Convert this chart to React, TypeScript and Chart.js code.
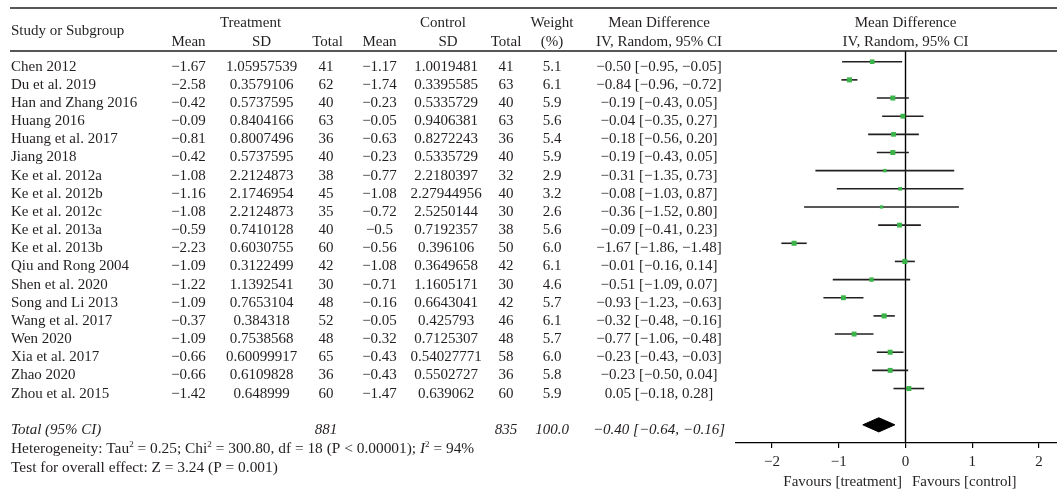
import React, { useEffect, useRef } from "react";
import { Chart, registerables } from "chart.js";

Chart.register(...registerables);

const studies = [
  "Chen 2012", "Du et al. 2019", "Han and Zhang 2016", "Huang 2016", "Huang et al. 2017",
  "Jiang 2018", "Ke et al. 2012a", "Ke et al. 2012b", "Ke et al. 2012c", "Ke et al. 2013a",
  "Ke et al. 2013b", "Qiu and Rong 2004", "Shen et al. 2020", "Song and Li 2013",
  "Wang et al. 2017", "Wen 2020", "Xia et al. 2017", "Zhao 2020", "Zhou et al. 2015",
];
const tMean = [-1.67, -2.58, -0.42, -0.09, -0.81, -0.42, -1.08, -1.16, -1.08, -0.59, -2.23, -1.09, -1.22, -1.09, -0.37, -1.09, -0.66, -0.66, -1.42];
const tSD = [1.05957539, 0.3579106, 0.5737595, 0.8404166, 0.8007496, 0.5737595, 2.2124873, 2.1746954, 2.2124873, 0.7410128, 0.6030755, 0.3122499, 1.1392541, 0.7653104, 0.384318, 0.7538568, 0.60099917, 0.6109828, 0.648999];
const tTotal = [41, 62, 40, 63, 36, 40, 38, 45, 35, 40, 60, 42, 30, 48, 52, 48, 65, 36, 60];
const cMean = [-1.17, -1.74, -0.23, -0.05, -0.63, -0.23, -0.77, -1.08, -0.72, -0.5, -0.56, -1.08, -0.71, -0.16, -0.05, -0.32, -0.43, -0.43, -1.47];
const cSD = [1.0019481, 0.3395585, 0.5335729, 0.9406381, 0.8272243, 0.5335729, 2.2180397, 2.27944956, 2.5250144, 0.7192357, 0.396106, 0.3649658, 1.1605171, 0.6643041, 0.425793, 0.7125307, 0.54027771, 0.5502727, 0.639062];
const cTotal = [41, 63, 40, 63, 36, 40, 32, 40, 30, 38, 50, 42, 30, 42, 46, 48, 58, 36, 60];
const weights = [5.1, 6.1, 5.9, 5.6, 5.4, 5.9, 2.9, 3.2, 2.6, 5.6, 6.0, 6.1, 4.6, 5.7, 6.1, 5.7, 6.0, 5.8, 5.9];
const md = [-0.50, -0.84, -0.19, -0.04, -0.18, -0.19, -0.31, -0.08, -0.36, -0.09, -1.67, -0.01, -0.51, -0.93, -0.32, -0.77, -0.23, -0.23, 0.05];
const ciLow = [-0.95, -0.96, -0.43, -0.35, -0.56, -0.43, -1.35, -1.03, -1.52, -0.41, -1.86, -0.16, -1.09, -1.23, -0.48, -1.06, -0.43, -0.50, -0.18];
const ciHigh = [-0.05, -0.72, 0.05, 0.27, 0.20, 0.05, 0.73, 0.87, 0.80, 0.23, -1.48, 0.14, 0.07, -0.63, -0.16, -0.48, -0.03, 0.04, 0.28];

const totalTreatment = 881;
const totalControl = 835;
const totalWeight = 100.0;
const totalMD = -0.40;
const totalLow = -0.64;
const totalHigh = -0.16;

const xTicks = [-2, -1, 0, 1, 2];
const heterogeneity = { tau2: "0.25", chi2: "300.80", df: "18", p: "< 0.00001", i2: "94%" };
const overallTest = "Test for overall effect: Z = 3.24 (P = 0.001)";

const TOTAL_ROW = 20;
const FONT = '"Liberation Serif", "Times New Roman", serif';
const INK = "#231f20";

const minus = (s: string) => s.replace(/-/g, "\u2212");
const f2 = (n: number) => minus(n.toFixed(2));
const ciText = (m: number, l: number, h: number) => `${f2(m)} [${f2(l)}, ${f2(h)}]`;

export default function App() {
  const ref = useRef<HTMLCanvasElement>(null);

  useEffect(() => {
    const canvas = ref.current;
    if (!canvas) return;

    const cols = { tMean: 188.5, tSD: 261.5, tN: 326, cMean: 379.5, cSD: 446, cN: 506, w: 552, md: 659 };

    const tablePlugin = {
      id: "forestTable",
      afterDraw(chart: any) {
        const c: CanvasRenderingContext2D = chart.ctx;
        const ys = chart.scales.y;
        const xs = chart.scales.x;
        const area = chart.chartArea;
        c.save();
        c.fillStyle = INK;
        c.strokeStyle = INK;
        c.lineWidth = 1.3;
        c.beginPath();
        c.moveTo(10, 8);
        c.lineTo(1057, 8);
        c.moveTo(10, area.top);
        c.lineTo(1057, area.top);
        c.stroke();

        const txt = (s: string, x: number, y: number, align: CanvasTextAlign = "center", style = "normal", size = 15) => {
          c.font = `${style} ${size}px ${FONT}`;
          c.textAlign = align;
          c.textBaseline = "alphabetic";
          c.fillText(s, x, y);
        };

        // headers
        txt("Study or Subgroup", 11, 35, "left");
        txt("Treatment", 250.5, 26.7);
        txt("Mean", cols.tMean, 45.7);
        txt("SD", cols.tSD, 45.7);
        txt("Total", 327.5, 45.7);
        txt("Control", 443, 26.7);
        txt("Mean", cols.cMean, 45.7);
        txt("SD", 448, 45.7);
        txt("Total", cols.cN, 45.7);
        txt("Weight", cols.w, 26.7);
        txt("(%)", cols.w, 45.7);
        txt("Mean Difference", cols.md, 26.7);
        txt("IV, Random, 95% CI", cols.md, 45.7);
        const zx = xs.getPixelForValue(0);
        txt("Mean Difference", zx, 26.7);
        txt("IV, Random, 95% CI", zx, 45.7);

        // rows
        studies.forEach((name, i) => {
          const y = ys.getPixelForValue(i) + 9;
          txt(name, 11, y, "left");
          txt(minus(String(tMean[i])), cols.tMean, y);
          txt(String(tSD[i]), cols.tSD, y);
          txt(String(tTotal[i]), cols.tN, y);
          txt(minus(String(cMean[i])), cols.cMean, y);
          txt(String(cSD[i]), cols.cSD, y);
          txt(String(cTotal[i]), cols.cN, y);
          txt(weights[i].toFixed(1), cols.w, y);
          txt(ciText(md[i], ciLow[i], ciHigh[i]), cols.md, y);
        });

        // total row
        const ty = ys.getPixelForValue(TOTAL_ROW) + 9;
        txt("Total (95% CI)", 11, ty, "left", "italic");
        txt(String(totalTreatment), cols.tN, ty, "center", "italic");
        txt(String(totalControl), cols.cN, ty, "center", "italic");
        txt(totalWeight.toFixed(1), cols.w, ty, "center", "italic");
        txt(ciText(totalMD, totalLow, totalHigh), cols.md, ty, "center", "italic");

        // heterogeneity rich text
        const hy = ty + 19.3;
        let x = 11;
        const seg = (s: string, style = "normal", size = 15.4, dy = 0) => {
          c.font = `${style} ${size}px ${FONT}`;
          c.textAlign = "left";
          c.textBaseline = "alphabetic";
          c.fillText(s, x, hy + dy);
          x += c.measureText(s).width;
        };
        seg("Heterogeneity: Tau");
        seg("2", "normal", 9, -6);
        seg(` = ${heterogeneity.tau2}; Chi`);
        seg("2", "normal", 9, -6);
        seg(` = ${heterogeneity.chi2}, df = ${heterogeneity.df} (P ${heterogeneity.p}); `);
        seg("I", "italic");
        seg("2", "normal", 9, -6);
        seg(` = ${heterogeneity.i2}`);

        txt(overallTest, 11, hy + 19, "left", "normal", 15.4);

        // favours labels
        const fy = area.bottom + 43;
        txt("Favours [treatment]", zx - 3.5, fy, "right");
        txt("Favours [control]", zx + 6.5, fy, "left");
        c.restore();
      },
    };

    const ciDatasets = studies.map((_, i) => ({
      type: "line" as const,
      data: [
        { x: ciLow[i], y: i },
        { x: ciHigh[i], y: i },
      ],
      borderColor: INK,
      borderWidth: 1.6,
      pointRadius: 0,
      showLine: true,
      order: 5,
    }));

    const h = 0.39;
    const chart = new Chart(canvas, {
      type: "scatter",
      data: {
        datasets: [
          {
            type: "line",
            data: [
              { x: 0, y: -5 },
              { x: 0, y: 30 },
            ],
            borderColor: "#000",
            borderWidth: 1.4,
            pointRadius: 0,
            showLine: true,
            order: 10,
          } as any,
          ...ciDatasets,
          {
            type: "scatter",
            data: md.map((v, i) => ({ x: v, y: i })),
            pointStyle: "rect",
            pointRadius: weights.map((w) => 1.45 * Math.sqrt(w)),
            backgroundColor: "#3bb54a",
            borderWidth: 0,
            order: 1,
          } as any,
          {
            type: "line",
            data: [
              { x: totalLow, y: TOTAL_ROW },
              { x: totalMD, y: TOTAL_ROW - h },
              { x: totalHigh, y: TOTAL_ROW },
              { x: totalMD, y: TOTAL_ROW + h },
              { x: totalLow, y: TOTAL_ROW },
            ],
            borderColor: "#000",
            backgroundColor: "#000",
            borderWidth: 1,
            pointRadius: 0,
            showLine: true,
            fill: "shape",
            order: 1,
          } as any,
        ],
      },
      options: {
        animation: false,
        responsive: false,
        devicePixelRatio: 1,
        layout: { autoPadding: false, padding: { left: 736, right: 0, top: 51, bottom: 0 } },
        plugins: { legend: { display: false }, tooltip: { enabled: false } },
        scales: {
          x: {
            type: "linear",
            min: -2.54,
            max: 2.27,
            afterBuildTicks: (scale: any) => {
              scale.ticks = xTicks.map((v) => ({ value: v }));
            },
            afterFit: (scale: any) => {
              scale.height = 49;
            },
            border: { display: true, color: "#000", width: 1.2 },
            grid: { drawOnChartArea: false, drawTicks: true, tickLength: 5, color: "#000", lineWidth: 1.2 },
            ticks: {
              color: INK,
              font: { family: FONT, size: 15 },
              padding: 5,
              maxRotation: 0,
              callback: (v: any) => minus(String(v)),
            },
          },
          y: {
            type: "linear",
            display: false,
            reverse: true,
            min: -0.59,
            max: 21.0,
          },
        },
      },
      plugins: [tablePlugin],
    } as any);

    return () => chart.destroy();
  }, []);

  return (
    <div style={{ position: "fixed", left: 0, top: 0, width: 1057, height: 492, background: "#fff" }}>
      <canvas ref={ref} width={1057} height={492} style={{ display: "block", width: 1057, height: 492 }} />
    </div>
  );
}
